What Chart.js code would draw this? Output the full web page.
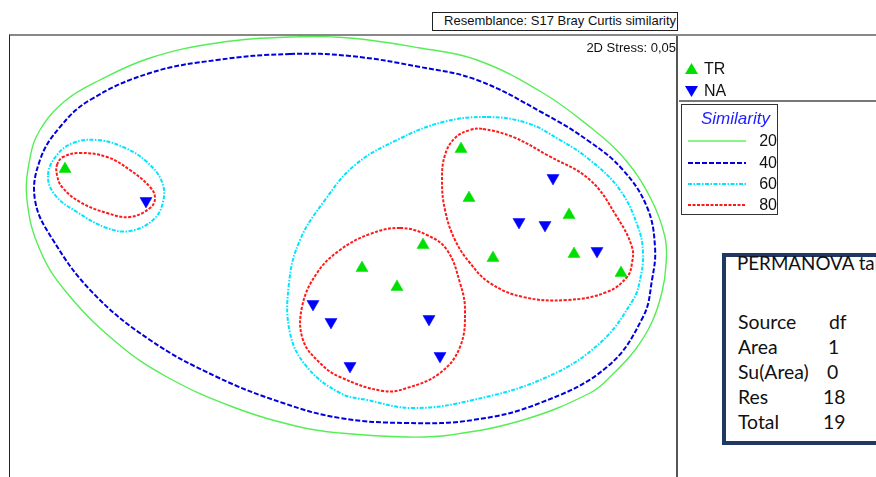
<!DOCTYPE html>
<html><head><meta charset="utf-8">
<script src="https://cdn.jsdelivr.net/npm/chart.js@4.4.1/dist/chart.umd.min.js"></script>
<style>
*{box-sizing:border-box;}
html,body{margin:0;padding:0;background:#fff;}
body{width:876px;height:477px;overflow:hidden;position:relative;font-family:"Liberation Sans",Arial,sans-serif;color:#111;}
.abs{position:absolute;white-space:nowrap;}
#resem{left:432px;top:12px;width:246px;height:19px;border:1.5px solid #222;font-size:13px;line-height:16px;text-align:right;padding-right:1px;}
#frame{left:9px;top:34px;width:669px;height:480px;border-left:1.5px solid #222;border-top:2px solid #888;border-right:2px solid #555;}
#chartbox{left:10px;top:36px;width:666px;height:441px;}
#stress{right:200px;top:40px;font-size:13px;line-height:16px;}
#topline{left:677px;top:34px;width:199px;height:2px;background:#888;}
#legline{left:679px;top:100px;width:197px;height:2px;background:#777;}
.leg{font-size:16px;line-height:18px;}
#simbox{left:681px;top:104px;width:97px;height:111px;border:1.5px solid #333;}
#simtitle{left:701px;top:109px;font-size:17px;line-height:20px;font-style:italic;color:#1e1eff;}
.simnum{font-size:16px;line-height:18px;text-align:right;width:40px;left:737px;}
#perm{left:722px;top:253px;width:180px;height:192px;border:4px solid #1f3864;}
.pt{font-family:Lato,"Open Sans",sans-serif;font-size:19.4px;line-height:22px;color:#111;}
.ptt{font-family:Lato,"Open Sans",sans-serif;font-size:18.8px;line-height:22px;color:#111;}
</style>
</head><body>
<div id="resem" class="abs">Resemblance: S17 Bray Curtis similarity</div>
<div id="frame" class="abs"></div>
<div id="chartbox" class="abs"><canvas id="c"></canvas></div>
<div id="stress" class="abs">2D Stress: 0,05</div>
<div id="topline" class="abs"></div>
<div id="legline" class="abs"></div>
<svg class="abs" style="left:677px;top:34px" width="199" height="200">
  <polygon points="8,40 14.5,29 21,40" fill="#00e000"/>
  <polygon points="8,52 21,52 14.5,63" fill="#0000ff"/>
  <line x1="11" y1="107" x2="69" y2="107" stroke="#66ee66" stroke-width="1.5"/>
  <line x1="11" y1="129" x2="69" y2="129" stroke="#0000dd" stroke-width="2" stroke-dasharray="5,2"/>
  <line x1="11" y1="150" x2="69" y2="150" stroke="#00e5ff" stroke-width="2" stroke-dasharray="4,1.5,1.5,1.5"/>
  <line x1="11" y1="171" x2="69" y2="171" stroke="#ff1a1a" stroke-width="2" stroke-dasharray="3,1.5"/>
</svg>
<div class="abs leg" style="left:704px;top:60px">TR</div>
<div class="abs leg" style="left:704px;top:82px">NA</div>
<div id="simbox" class="abs"></div>
<div id="simtitle" class="abs">Similarity</div>
<div id="simnums"></div>
<div id="perm" class="abs"></div>
<div id="permtext"></div>
<script>
// ---- data ----
const groups = ['TR', 'NA'];
const trX = [1.18, 1.26, 2.26, 1.50, 2.31, 2.78, 0.80, 0.19, 0.54, -2.78];
const trY = [1.07, 0.58, 0.41, -0.02, 0.02, -0.17, 0.11, -0.12, -0.31, 0.87];
const naX = [2.10, 1.76, 2.02, 2.54, -0.30, -0.12, 0.86, 0.97, 0.07, -1.97];
const naY = [0.78, 0.34, 0.31, 0.05, -0.48, -0.66, -0.63, -1.00, -1.10, 0.55];

const simLevels = [20, 40, 60, 80];

// similarity contours (closed curves)
const c20X = [-0.53, 0.07, 0.77, 1.34, 2.00, 2.47, 2.80, 3.07, 3.22, 3.23, 3.19, 3.09, 2.92, 2.69, 2.47, 1.80, 1.07, 0.64, -0.03, -0.43, -1.10, -1.76, -2.26, -2.76, -3.03, -3.16, -3.13, -3.03, -2.78, -2.43, -1.93, -1.26];
const c20Y = [2.19, 2.18, 2.08, 1.96, 1.63, 1.29, 0.99, 0.59, 0.19, -0.09, -0.36, -0.66, -0.94, -1.19, -1.37, -1.64, -1.79, -1.81, -1.77, -1.71, -1.51, -1.21, -0.87, -0.37, 0.06, 0.56, 0.98, 1.26, 1.55, 1.76, 1.98, 2.13];

const c40X = [-0.53, 0.07, 0.77, 1.34, 2.00, 2.47, 2.80, 3.04, 3.12, 3.09, 3.00, 2.64, 1.97, 1.30, 0.64, -0.03, -0.60, -1.26, -1.93, -2.50, -2.90, -3.08, -3.03, -2.83, -2.53, -1.93, -1.26];
const c40Y = [2.02, 2.00, 1.89, 1.76, 1.43, 1.14, 0.86, 0.49, 0.09, -0.24, -0.61, -1.11, -1.47, -1.64, -1.67, -1.62, -1.47, -1.21, -0.84, -0.37, 0.16, 0.56, 0.96, 1.29, 1.56, 1.83, 1.96];

const c60aX = [-2.95, -2.86, -2.70, -2.46, -2.20, -1.96, -1.81, -1.80, -1.90, -2.13, -2.36, -2.66, -2.88];
const c60aY = [0.81, 1.01, 1.13, 1.16, 1.09, 0.94, 0.74, 0.54, 0.36, 0.25, 0.28, 0.44, 0.61];

const c60bX = [1.44, 1.84, 2.17, 2.47, 2.77, 2.95, 3.00, 2.97, 2.90, 2.57, 2.04, 1.30, 0.70, 0.24, -0.03, -0.36, -0.53, -0.54, -0.43, -0.18, 0.12, 0.54, 1.00];
const c60bY = [1.39, 1.33, 1.16, 0.96, 0.66, 0.29, 0.03, -0.24, -0.44, -0.87, -1.21, -1.44, -1.52, -1.44, -1.37, -1.11, -0.77, -0.27, 0.16, 0.56, 0.91, 1.16, 1.34];

const c80aX = [-2.86, -2.80, -2.63, -2.36, -2.13, -1.93, -1.88, -1.93, -2.13, -2.36, -2.63, -2.81, -2.86];
const c80aY = [0.91, 0.99, 1.03, 0.99, 0.86, 0.69, 0.58, 0.48, 0.39, 0.43, 0.54, 0.69, 0.81];

const c80bX = [1.40, 1.70, 2.04, 2.47, 2.74, 2.89, 2.89, 2.84, 2.64, 2.24, 1.80, 1.47, 1.27, 1.12, 1.02, 0.99, 1.02, 1.12, 1.27];
const c80bY = [1.27, 1.19, 1.01, 0.76, 0.39, 0.09, -0.07, -0.21, -0.36, -0.44, -0.41, -0.27, -0.07, 0.16, 0.46, 0.76, 1.01, 1.18, 1.26];

const c80cX = [0.57, 0.84, 1.04, 1.17, 1.22, 1.17, 0.97, 0.64, 0.40, -0.03, -0.23, -0.40, -0.41, -0.26, -0.03, 0.27];
const c80cY = [0.28, 0.21, 0.06, -0.27, -0.54, -0.91, -1.17, -1.32, -1.35, -1.21, -1.07, -0.84, -0.51, -0.17, 0.06, 0.22];

const permTitle = 'PERMANOVA table';
const permHead = ['Source', 'df'];
const permSource = ['Area', 'Su(Area)', 'Res', 'Total'];
const permDf = [1, 0, 18, 19];

// ---- text blocks ----
const simTops = [132, 154, 175, 196];
document.getElementById('simnums').innerHTML = simLevels.map((v, i) =>
  `<div class="abs simnum" style="top:${simTops[i]}px">${v}</div>`).join('');

const rowTops = [311, 336, 361, 386, 411];
const dfLeft = [829, 828, 827, 823, 823];
let ph = `<div class="abs ptt" style="left:737px;top:252px">${permTitle}</div>`;
ph += `<div class="abs pt" style="left:738px;top:${rowTops[0]}px">${permHead[0]}</div>`;
ph += `<div class="abs pt" style="left:${dfLeft[0]}px;top:${rowTops[0]}px">${permHead[1]}</div>`;
permSource.forEach((s, i) => {
  ph += `<div class="abs pt" style="left:738px;top:${rowTops[i + 1]}px">${s}</div>`;
  ph += `<div class="abs pt" style="left:${dfLeft[i + 1]}px;top:${rowTops[i + 1]}px">${permDf[i]}</div>`;
});
document.getElementById('permtext').innerHTML = ph;

// ---- chart ----
const pts = (xs, ys) => xs.map((x, i) => ({x: x, y: ys[i]}));
const lvlStyle = {
  20: {c: '#55ee55', w: 1.4, d: []},
  40: {c: '#0000dd', w: 2, d: [5, 2]},
  60: {c: '#00e5ff', w: 2, d: [4, 1.5, 1.5, 1.5]},
  80: {c: '#ff1a1a', w: 2, d: [3, 1.5]}
};
function contour(level, xs, ys) {
  const s = lvlStyle[level];
  return {label: 'sim ' + level, data: pts(xs, ys), showLine: true, closed: true,
    borderColor: s.c, backgroundColor: s.c, borderWidth: s.w, borderDash: s.d,
    pointRadius: 0, tension: 0.4, fill: false, order: 2};
}
const closePlugin = {
  id: 'closeContours',
  afterDatasetUpdate(chart, args) {
    const ds = chart.data.datasets[args.index];
    if (ds && ds.closed) {
      const line = args.meta.dataset;
      line._loop = true;
      line._fullLoop = true;
      line._pointsUpdated = false;
      line._segments = undefined;
      line._path = undefined;
    }
  }
};
new Chart(document.getElementById('c'), {
  type: 'line',
  data: {
    datasets: [
      {label: groups[0], data: pts(trX, trY), showLine: false, pointStyle: 'triangle', pointRadius: 7,
        pointBackgroundColor: '#00e000', pointBorderColor: '#00e000', pointBorderWidth: 0.5,
        borderColor: '#00e000', backgroundColor: '#00e000', order: 0},
      {label: groups[1], data: pts(naX, naY), showLine: false, pointStyle: 'triangle', pointRotation: 180, pointRadius: 7,
        pointBackgroundColor: '#0000ff', pointBorderColor: '#0000ff', pointBorderWidth: 0.5,
        borderColor: '#0000ff', backgroundColor: '#0000ff', order: 0},
      contour(20, c20X, c20Y),
      contour(40, c40X, c40Y),
      contour(60, c60aX, c60aY),
      contour(60, c60bX, c60bY),
      contour(80, c80aX, c80aY),
      contour(80, c80bX, c80bY),
      contour(80, c80cX, c80cY)
    ]
  },
  options: {
    animation: false, responsive: true, maintainAspectRatio: false, events: [],
    layout: {padding: 0, autoPadding: false},
    plugins: {legend: {display: false}, tooltip: {enabled: false}},
    scales: {
      x: {type: 'linear', min: -3.33, max: 3.33, display: false},
      y: {type: 'linear', min: -2.21, max: 2.2, display: false}
    }
  },
  plugins: [closePlugin]
});
</script>
</body></html>
